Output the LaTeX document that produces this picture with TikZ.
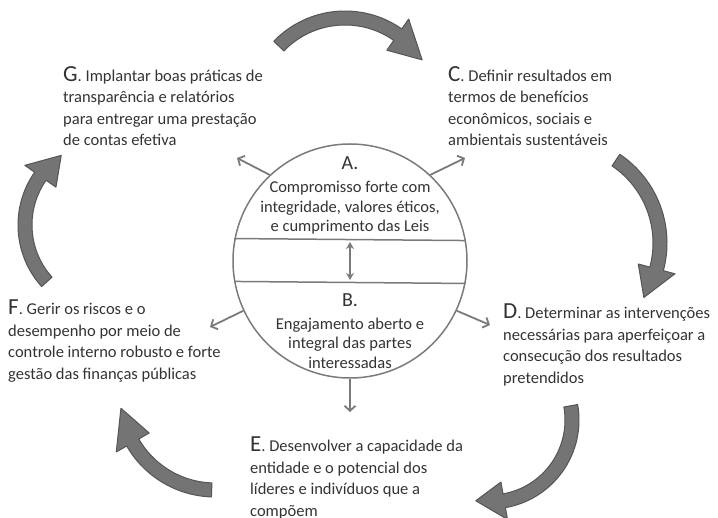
\documentclass[tikz,border=0pt]{standalone}
\usepackage{fontspec}
\setmainfont{Carlito}
\usetikzlibrary{arrows.meta,calc}

\definecolor{inkgray}{HTML}{333333}
\definecolor{ringgray}{HTML}{7A7A7A}
\definecolor{arcfill}{HTML}{747474}
\definecolor{arcline}{HTML}{555555}

\newcommand{\bigltr}[1]{{\fontsize{23}{21.5}\selectfont #1}}
% block arrow on a circle: centre, radius, tail angle, head base angle, tip angle
\newcommand{\cyclearc}[5]{%
  \filldraw[cyclearrow]
    ($(#1)+(#3:{#2+7})$) arc[start angle=#3, end angle=#4, radius={#2+7}]
    -- ($(#1)+(#4:{#2+19})$) -- ($(#1)+(#5:#2)$) -- ($(#1)+(#4:{#2-19})$)
    -- ($(#1)+(#4:{#2-7})$) arc[start angle=#4, end angle=#3, radius={#2-7}]
    -- cycle;
}

\begin{document}
\begin{tikzpicture}[%
    x=1pt, y=-1pt,
    stepnote/.style={align=left, anchor=north west, inner sep=0pt, text=inkgray,
      font=\fontsize{16.5}{21.5}\selectfont},
    coretext/.style={align=center, inner sep=0pt, text=inkgray,
      font=\fontsize{16.5}{19.5}\selectfont},
    core/.style={circle, draw=ringgray, line width=1.5pt, minimum size=234pt, inner sep=0pt},
    chord/.style={draw=ringgray, line width=1.5pt},
    spoke/.style={draw=ringgray, line width=1.8pt, -{Straight Barb[length=5pt,width=11pt]}},
    link/.style={draw=ringgray, line width=2pt, {Stealth[length=7pt,width=8pt]}-{Stealth[length=7pt,width=8pt]}},
    cyclearrow/.style={fill=arcfill, draw=arcline, line width=1pt, line join=round},
  ]
    \useasboundingbox (0,0) rectangle (718,518);

    % centre
    \node[core] (core) at (350,261) {};
    \draw[chord] (core.169.2) -- (core.10.8);
    \draw[chord] (core.190.8) -- (core.349.2);
    \node[coretext] (a) at (350,163) {\fontsize{20}{20}\selectfont A.};
    \node[coretext] (atext) at (350,208) {Compromisso forte com\\integridade, valores éticos,\\e cumprimento das Leis};
    \node[coretext] (b) at (350,300) {\fontsize{20}{20}\selectfont B.};
    \node[coretext] (btext) at (350,343) {Engajamento aberto e\\integral das partes\\interessadas};
    \coordinate (linkA) at (350,242);
    \coordinate (linkB) at (350,280);
    \draw[link] (linkA) -- (linkB);

    % outer steps
    \node[stepnote] (g) at (63,66) {\bigltr{G}. Implantar boas práticas de\\transparência e relatórios\\para entregar uma prestação\\de contas efetiva};
    \node[stepnote] (c) at (448,66) {\bigltr{C}. Definir resultados em\\termos de benefícios\\econômicos, sociais e\\ambientais sustentáveis};
    \node[stepnote] (d) at (503,304) {\bigltr{D}. Determinar as intervenções\\necessárias para aperfeiçoar a\\consecução dos resultados\\pretendidos};
    \node[stepnote] (e) at (250,437) {\bigltr{E}. Desenvolver a capacidade da\\entidade e o potencial dos\\líderes e indivíduos que a\\compõem};
    \node[stepnote] (f) at (8,300) {\bigltr{F}. Gerir os riscos e o\\desempenho por meio de\\controle interno robusto e forte\\gestão das finanças públicas};

    % spokes
    \coordinate (toG) at (237,158);
    \coordinate (toC) at (465,158);
    \coordinate (toD) at (490,325);
    \coordinate (toE) at (350,412);
    \coordinate (toF) at (210,327);
    \draw[spoke] (core.133) -- (toG);
    \draw[spoke] (core.47) -- (toC);
    \draw[spoke] (core.-25) -- (toD);
    \draw[spoke] (core.270) -- (toE);
    \draw[spoke] (core.205) -- (toF);

    % cycle arrows
    \cyclearc{345,110}{92}{224}{305}{327}
    \cyclearc{560,243}{100}{-56}{15}{33}
    \cyclearc{490,420}{82}{-10}{80}{100}
    \cyclearc{215,395}{95}{92}{150}{172}
    \cyclearc{110,225}{85}{138}{215}{235}
\end{tikzpicture}
\end{document}
